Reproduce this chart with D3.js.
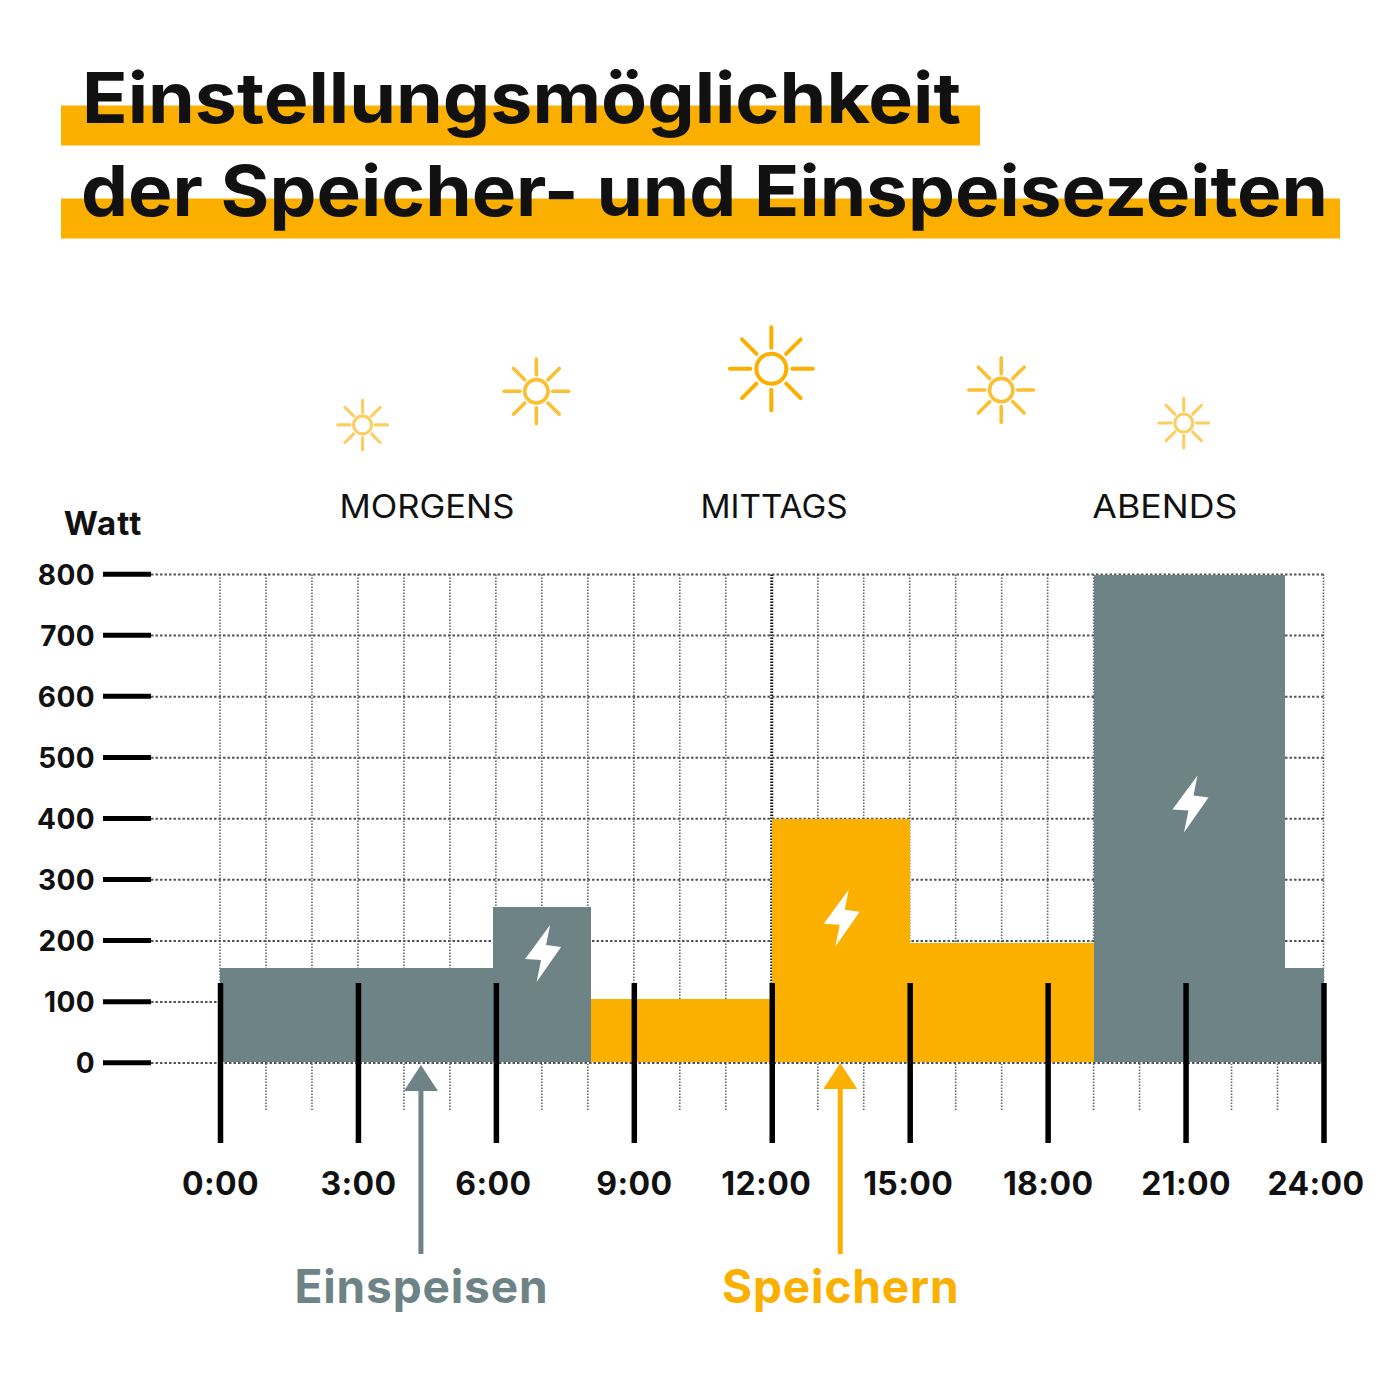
<!DOCTYPE html>
<html>
<head>
<meta charset="utf-8">
<script src="https://cdn.jsdelivr.net/npm/d3@7"></script>
<style>
  html, body { margin: 0; padding: 0; background: #fff; }
  svg { display: block; }
  text { font-family: Inter, "Open Sans", sans-serif; fill: #111; }
</style>
</head>
<body>
<svg id="chart" width="1400" height="1400"></svg>
<script>
// chart values
var titleLines = ["Einstellungsmöglichkeit", "der Speicher- und Einspeisezeiten"];
var yTicks = [0, 100, 200, 300, 400, 500, 600, 700, 800];
var hourTicks = [0, 3, 6, 9, 12, 15, 18, 21, 24];
var gridHours = d3.range(0, 25);
var stepStart = [0, 5.94, 8.07, 12, 15, 19, 23.17];
var stepEnd = [5.94, 8.07, 12, 15, 19, 23.17, 24];
var stepWatts = [155, 255, 105, 400, 197, 800, 155];
var stepMode = ["Einspeisen", "Einspeisen", "Speichern", "Speichern", "Speichern", "Einspeisen", "Einspeisen"];
var boltSteps = [1, 3, 5];
var boltWatts = [180, 238, 425];
var periods = ["MORGENS", "MITTAGS", "ABENDS"];
var periodHours = [4.5, 12.05, 20.55];
var sunHours = [3.09, 6.87, 11.98, 16.98, 20.95];
var sunWatts = [1045, 1100, 1137, 1102, 1048];
var sunSize = [0.6, 0.78, 1, 0.78, 0.6];
var legendNames = ["Einspeisen", "Speichern"];
var legendHours = [4.37, 13.49];

var gray = "#6e8385";
var orange = "#fbb000";

var svg = d3.select("#chart");
var x = d3.scaleLinear().domain([0, 24]).range([220, 1323.5]);
var y = d3.scaleLinear().domain([0, 800]).range([1063, 574.5]);
var color = d3.scaleOrdinal().domain(legendNames).range([gray, orange]);

// title with marker stripes
var stripes = [[61, 105.5, 919], [61, 198.5, 1279]];
var titleX = [82, 81];
var titleBase = [123, 216];
var titleWidth = [879, 1247];
stripes.forEach(function (s) {
  svg.append("rect").attr("x", s[0]).attr("y", s[1]).attr("width", s[2]).attr("height", 40).attr("fill", orange);
});
titleLines.forEach(function (t, i) {
  svg.append("text").attr("x", titleX[i]).attr("y", titleBase[i])
    .attr("font-size", 70).attr("font-weight", 700)
    .attr("textLength", titleWidth[i]).attr("lengthAdjust", "spacingAndGlyphs")
    .text(t);
});

// grid
svg.append("g").selectAll("line").data(gridHours).join("line")
  .attr("x1", d => x(d)).attr("x2", d => x(d))
  .attr("y1", y(800)).attr("y2", 1110)
  .attr("stroke", d => d === 12 ? "#111" : "#666")
  .attr("stroke-width", d => d === 12 ? 3 : 1.6)
  .attr("stroke-dasharray", "1.5 1.5");

svg.append("g").selectAll("line").data(yTicks).join("line")
  .attr("x1", 151).attr("x2", x(24))
  .attr("y1", d => y(d)).attr("y2", d => y(d))
  .attr("stroke", "#555").attr("stroke-width", 2)
  .attr("stroke-dasharray", "2.5 2");

// bars
svg.append("g").attr("shape-rendering", "crispEdges")
  .selectAll("rect").data(stepWatts).join("rect")
  .attr("x", (d, i) => x(stepStart[i]))
  .attr("width", (d, i) => x(stepEnd[i]) - x(stepStart[i]))
  .attr("y", d => y(d))
  .attr("height", d => y(0) - y(d))
  .attr("fill", (d, i) => color(stepMode[i]));

// baseline sits on top of the bars
svg.append("line").attr("x1", x(0)).attr("x2", x(24)).attr("y1", y(0)).attr("y2", y(0))
  .attr("stroke", "#fff").attr("stroke-width", 2);
svg.append("line").attr("x1", x(0)).attr("x2", x(24)).attr("y1", y(0)).attr("y2", y(0))
  .attr("stroke", "#555").attr("stroke-width", 2).attr("stroke-dasharray", "2.5 2");

// lightning bolts
var boltShape = [[8, -28], [-17, 6], [-1, 7], [-5.5, 29], [19, -6], [4, -8]];
svg.append("g").selectAll("polygon").data(boltSteps).join("polygon")
  .attr("points", boltShape.map(p => p.join(",")).join(" "))
  .attr("transform", (d, i) => "translate(" + x((stepStart[d] + stepEnd[d]) / 2) + "," + y(boltWatts[i]) + ")")
  .attr("fill", "#fff");

// y axis
var yAxis = svg.append("g").attr("transform", "translate(151,-0.8)")
  .call(d3.axisLeft(y).tickValues(yTicks).tickSize(48).tickPadding(8));
yAxis.select(".domain").remove();
yAxis.selectAll("line").attr("stroke", "#000").attr("stroke-width", 5);
yAxis.selectAll("text").attr("font-size", 28).attr("font-weight", 700)
  .attr("font-family", "Inter").attr("fill", "#111").attr("letter-spacing", 0.4)
  .attr("y", 1.5);

svg.append("text").attr("x", 103).attr("y", 535).attr("text-anchor", "middle")
  .attr("font-size", 33).attr("font-weight", 700).attr("letter-spacing", 1).text("Watt");

// x axis, the labels do not all sit exactly under their tick
var labelNudge = [0, 0, -3, 0, -6, -2, 0, 0, -8];
var xAxis = svg.append("g").attr("transform", "translate(0,983)")
  .call(d3.axisBottom(x).tickValues(hourTicks).tickSize(160).tickPadding(29)
    .tickFormat(d => d + ":00"));
xAxis.select(".domain").remove();
xAxis.selectAll("line").attr("stroke", "#000").attr("stroke-width", 5.5);
xAxis.selectAll("text").attr("font-size", 32).attr("font-weight", 700)
  .attr("font-family", "Inter").attr("fill", "#111").attr("letter-spacing", 0.4)
  .attr("dx", (d, i) => labelNudge[i]);

// suns
var rays = d3.range(8).map(d => d * Math.PI / 4);
sunHours.forEach(function (h, i) {
  var k = sunSize[i];
  var g = svg.append("g")
    .attr("transform", "translate(" + (x(h) + 0.5) + "," + y(sunWatts[i]) + ")")
    .attr("opacity", k === 1 ? 1 : (k < 0.7 ? 0.62 : 0.8))
    .attr("stroke", orange).attr("stroke-width", 4 * Math.sqrt(k)).attr("stroke-linecap", "round").attr("fill", "none");
  g.append("circle").attr("r", 15 * k);
  g.selectAll("line").data(rays).join("line")
    .attr("x1", a => Math.cos(a) * 21 * k).attr("y1", a => Math.sin(a) * 21 * k)
    .attr("x2", a => Math.cos(a) * 41.5 * k).attr("y2", a => Math.sin(a) * 41.5 * k);
});

// period labels
var periodWidth = [175, 147, 145];
svg.append("g").selectAll("text").data(periods).join("text")
  .attr("x", (d, i) => x(periodHours[i])).attr("y", 518)
  .attr("text-anchor", "middle").attr("font-size", 32).attr("font-weight", 400)
  .attr("textLength", (d, i) => periodWidth[i]).attr("lengthAdjust", "spacingAndGlyphs")
  .text(d => d);

// legend arrows
legendNames.forEach(function (name, i) {
  var cx = x(legendHours[i]);
  var tip = i === 0 ? 1065 : 1063;
  var c = color(name);
  svg.append("line").attr("x1", cx).attr("x2", cx).attr("y1", tip + 20).attr("y2", 1254)
    .attr("stroke", c).attr("stroke-width", 5);
  svg.append("path")
    .attr("d", d3.line()([[cx, tip], [cx - 17, tip + 26], [cx + 17, tip + 26]]) + "Z")
    .attr("fill", c);
  svg.append("text").attr("x", cx + 0.5).attr("y", 1303).attr("text-anchor", "middle")
    .attr("font-size", 46).attr("font-weight", 700).attr("letter-spacing", 0.85)
    .style("fill", c).text(name);
});
</script>
</body>
</html>
